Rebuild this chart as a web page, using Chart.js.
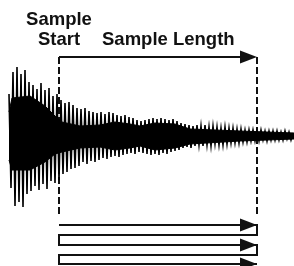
<!DOCTYPE html>
<html>
<head>
<meta charset="utf-8">
<script src="https://cdn.jsdelivr.net/npm/chart.js@4"></script>
<style>
  html, body { margin: 0; padding: 0; background: #fff; }
  #wrap { width: 294px; height: 266px; position: relative; }
</style>
</head>
<body>
<div id="wrap"><canvas id="chart"></canvas></div>
<script>
/* global Chart */

// Data (time on x, amplitude on y)
const sampleStart = 59;
const sampleEnd = 257;
const waveStart = 9;   // first wave sample time
const waveStep = 2;    // time between wave samples
const wave = [
  42, -52, 64, -70, 69, -66, 62, -71, 66, -58,
  54, -55, 51, -50, 47, -54, 53, -48, 46, -53,
  48, -45, 40, -47, 42, -44, 36, -38, 33, -36,
  34, -33, 31, -32, 28, -30, 27, -26, 28, -28,
  25, -25, 24, -26, 23, -24, 24, -22, 22, -23,
  24, -21, 23, -20, 21, -21, 20, -19, 21, -18,
  19, -17, 18, -18, 16, -16, 15, -17, 16, -18,
  17, -19, 18, -18, 17, -19, 18, -17, 17, -18,
  16, -16, 17, -15, 15, -14, 13, -12, 12, -11,
  11, -12, 10, -10, 11, -9, 10, -10, 11, -9,
  9, -10, 10, -8, 9, -9, 8, -9, 9, -8,
  8, -7, 8, -7, 7, -7, 7, -6, 6, -6,
  6, -5, 6, -5, 5, -5, 6, -4, 5, -5,
  5, -4, 5, -4, 5, -4, 4, -4, 5, -3,
  4, -4, 3
];
const coreT    = [9, 12, 30, 45, 55, 62, 80, 100, 115, 130, 140, 155, 175, 190, 240, 294];
const coreUp   = [24, 38, 40, 30, 20, 14, 10, 11, 14, 12, 10, 13, 12, 7, 5, 3];
const coreDown = [-24, -34, -34, -26, -18, -16, -12, -11, -14, -12, -10, -14, -12, -8, -5, -3];
const lengthLevel = 79;                          // "Sample Length" arrow
const dashBottom = -81;                          // end of the dashed markers
const loopLevels = [-89, -99, -109, -119, -128]; // repeat loop rows
const startLabel = ['Sample', 'Start'];
const lengthLabel = 'Sample Length';

// Build tables
const wavePts = wave.map((v, i) => ({ x: waveStart + i * waveStep, y: v }));
const coreTopPts = coreT.map((t, i) => ({ x: t, y: coreUp[i] }));
const coreBotPts = coreT.map((t, i) => ({ x: t, y: coreDown[i] }));

const loopPts = [];
loopLevels.forEach((y, i) => {
  if (i % 2 === 0) { loopPts.push({ x: sampleStart, y }); loopPts.push({ x: sampleEnd, y }); }
  else { loopPts.push({ x: sampleEnd, y }); loopPts.push({ x: sampleStart, y }); }
});
const headPts = [{ x: sampleEnd, y: lengthLevel }]
  .concat(loopLevels.filter((y, i) => i % 2 === 0).map(y => ({ x: sampleEnd, y })));

// Arrow head image, tip at the centre
function makeHead() {
  const c = document.createElement('canvas');
  c.width = 36; c.height = 14;
  const g = c.getContext('2d');
  g.fillStyle = '#111';
  g.beginPath();
  g.moveTo(1, 0.5);
  g.lineTo(18, 7);
  g.lineTo(1, 13.5);
  g.closePath();
  g.fill();
  return c;
}
const head = makeHead();

// Labels
const labelPlugin = {
  id: 'labels',
  afterDraw(chart) {
    const { ctx, scales } = chart;
    const xs = scales.x.getPixelForValue(sampleStart);
    ctx.save();
    ctx.fillStyle = '#111';
    ctx.font = 'bold 18.5px "Liberation Sans", Arial, sans-serif';
    ctx.textBaseline = 'alphabetic';
    ctx.textAlign = 'center';
    ctx.fillText(startLabel[0], xs, 25);
    ctx.fillText(startLabel[1], xs, 45);
    ctx.textAlign = 'left';
    ctx.fillText(lengthLabel, xs + 43, 45);
    ctx.restore();
  }
};

const line = (data, extra) => Object.assign({
  type: 'line', data, borderColor: '#111', borderWidth: 2, pointRadius: 0,
  fill: false, tension: 0
}, extra);

new Chart(document.getElementById('chart'), {
  type: 'line',
  data: {
    datasets: [
      line(coreTopPts, { borderWidth: 1, backgroundColor: '#000', borderColor: '#000', fill: '+1' }),
      line(coreBotPts, { borderWidth: 1, borderColor: '#000' }),
      line(wavePts, { borderWidth: 1.6, borderColor: '#000' }),
      line([{ x: sampleStart, y: lengthLevel }, { x: sampleStart, y: dashBottom }], { borderDash: [7, 3] }),
      line([{ x: sampleEnd, y: lengthLevel }, { x: sampleEnd, y: dashBottom }], { borderDash: [7, 3] }),
      line([{ x: sampleStart, y: lengthLevel }, { x: sampleEnd - 6, y: lengthLevel }]),
      line(loopPts),
      { type: 'scatter', data: headPts, pointStyle: head, pointRadius: 7, showLine: false }
    ]
  },
  options: {
    responsive: true,
    maintainAspectRatio: false,
    animation: false,
    layout: { padding: 0, autoPadding: false },
    plugins: { legend: { display: false }, tooltip: { enabled: false } },
    scales: {
      x: { type: 'linear', min: 0, max: 294, display: false },
      y: { type: 'linear', min: -130, max: 136, display: false }
    }
  },
  plugins: [labelPlugin]
});
</script>
</body>
</html>
